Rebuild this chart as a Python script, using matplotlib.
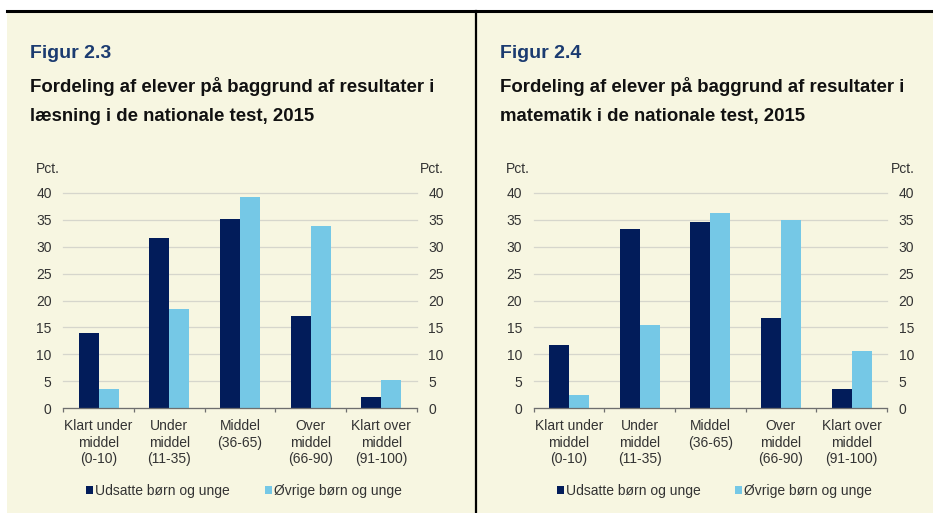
import matplotlib
matplotlib.use("Agg")
import matplotlib.pyplot as plt
from matplotlib.patches import Rectangle
import numpy as np

categories = ["Klart under\nmiddel\n(0-10)", "Under\nmiddel\n(11-35)", "Middel\n(36-65)",
              "Over\nmiddel\n(66-90)", "Klart over\nmiddel\n(91-100)"]
series_names = ["Udsatte børn og unge", "Øvrige børn og unge"]
laesning_udsatte = [14.0, 31.6, 35.2, 17.2, 2.1]
laesning_ovrige = [3.6, 18.4, 39.2, 33.9, 5.2]
matematik_udsatte = [11.7, 33.3, 34.6, 16.8, 3.6]
matematik_ovrige = [2.5, 15.4, 36.2, 35.0, 10.7]
yticks = [0, 5, 10, 15, 20, 25, 30, 35, 40]

panels = [
    ("Figur 2.3", "Fordeling af elever på baggrund af resultater i\nlæsning i de nationale test, 2015",
     laesning_udsatte, laesning_ovrige),
    ("Figur 2.4", "Fordeling af elever på baggrund af resultater i\nmatematik i de nationale test, 2015",
     matematik_udsatte, matematik_ovrige),
]

W, H = 933, 513
DARK = "#021c5a"
LIGHT = "#75c8e6"
CREAM = "#f7f6e1"
TXT = "#333333"
FONT = "Liberation Sans"
plt.rcParams["font.family"] = [FONT, "DejaVu Sans"]

fig = plt.figure(figsize=(W / 100, H / 100), dpi=100)
fig.patch.set_facecolor("white")

def fx(x):
    return x / W

def fy(y):
    return 1 - y / H

# cream background and frame lines
fig.patches.append(Rectangle((fx(7), 0), 1 - fx(7), fy(11), transform=fig.transFigure,
                             facecolor=CREAM, edgecolor="none", zorder=-10))
fig.lines.append(plt.Line2D([fx(7), 1], [fy(11), fy(11)], transform=fig.transFigure,
                            color="black", lw=2.2, zorder=-5))
fig.lines.append(plt.Line2D([fx(476), fx(476)], [0, fy(11)], transform=fig.transFigure,
                            color="black", lw=1.6, zorder=-5))

x = np.arange(len(categories))
bw = 0.283

for p, (fig_label, title, s1, s2) in enumerate(panels):
    off = 470.3 * p
    left, right, top, bottom = 63.3 + off, 416.7 + off, 192.7, 408.3
    ax = fig.add_axes([fx(left), fy(bottom), fx(right) - fx(left), fy(top) - fy(bottom)])
    ax.set_facecolor("none")
    b1 = ax.bar(x - bw / 2, s1, bw, color=DARK, zorder=3, label=series_names[0])
    b2 = ax.bar(x + bw / 2, s2, bw, color=LIGHT, zorder=3, label=series_names[1])
    ax.set_xlim(-0.5, len(categories) - 0.5)
    ax.set_ylim(0, 40)
    ax.set_yticks(yticks)
    ax.yaxis.grid(True, color="#d6d6cc", lw=0.9, zorder=0)
    for g in ax.get_ygridlines():
        g.set_clip_on(False)
    ax.tick_params(axis="y", length=0, pad=8.4, labelsize=10, labelcolor=TXT,
                   labelleft=True, labelright=True)
    ax.set_xticks(x)
    ax.set_xticklabels(categories, fontsize=10, color=TXT, linespacing=1.2)
    ax.tick_params(axis="x", which="major", length=0, pad=8)
    ax.set_xticks(np.arange(-0.5, len(categories)), minor=True)
    ax.tick_params(axis="x", which="minor", length=3, width=0.9, color="#6e6e6e", direction="out")
    for s in ["top", "left", "right"]:
        ax.spines[s].set_visible(False)
    ax.spines["bottom"].set_color("#6e6e6e")
    ax.spines["bottom"].set_linewidth(0.9)
    ax.spines["bottom"].set_zorder(4)

    fig.text(fx(30 + off), fy(54), fig_label, fontsize=14, fontweight="bold", color="#1b3b70",
             va="center", ha="left")
    fig.text(fx(30 + off), fy(101), title, fontsize=13.4, fontweight="bold", color="#111111",
             va="center", ha="left", linespacing=1.85)
    fig.text(fx(35.7 + off), fy(169), "Pct.", fontsize=10, color=TXT, va="center", ha="left")
    fig.text(fx(444 + off), fy(169), "Pct.", fontsize=10, color=TXT, va="center", ha="right")

    ax.legend(handles=[b1, b2], loc="center", bbox_to_anchor=(fx(244 + off), fy(490.7)),
              bbox_transform=fig.transFigure, ncol=2, frameon=False, fontsize=10,
              handlelength=0.5, handleheight=0.5, handletextpad=0.15, columnspacing=2.5,
              labelcolor=TXT, borderaxespad=0, borderpad=0)

fig.savefig("out.png", dpi=100, facecolor=fig.get_facecolor())
